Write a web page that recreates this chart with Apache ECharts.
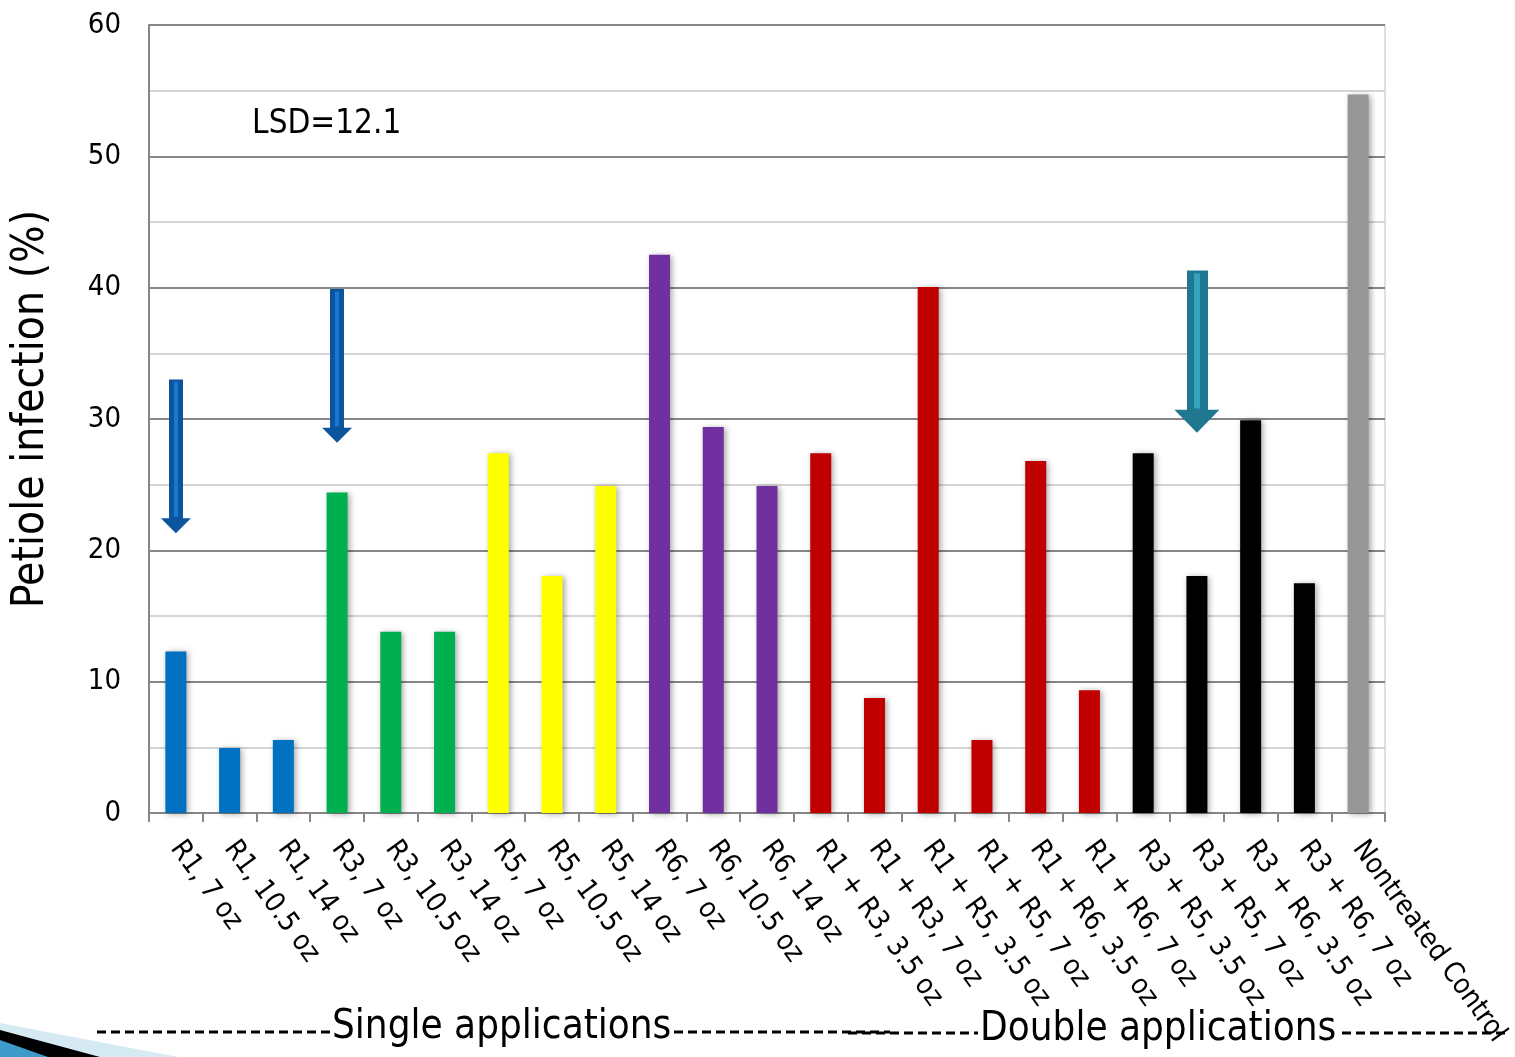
<!DOCTYPE html>
<html><head><meta charset="utf-8">
<script src="https://cdn.jsdelivr.net/npm/echarts@6/dist/echarts.min.js"></script>
<style>html,body{margin:0;padding:0;background:#fff}#c{width:1515px;height:1057px}</style>
</head><body><div id="c"></div>
<script>
const categories = ['R1, 7 oz','R1, 10.5 oz','R1, 14 oz','R3, 7 oz','R3, 10.5 oz','R3, 14 oz','R5, 7 oz','R5, 10.5 oz','R5, 14 oz','R6, 7 oz','R6, 10.5 oz','R6, 14 oz','R1 + R3, 3.5 oz','R1 + R3, 7 oz','R1 + R5, 3.5 oz','R1 + R5, 7 oz','R1 + R6, 3.5 oz','R1 + R6, 7 oz','R3 + R5, 3.5 oz','R3 + R5, 7 oz','R3 + R6, 3.5 oz','R3 + R6, 7 oz','Nontreated Control'];
const values = [12.3, 4.95, 5.55, 24.4, 13.8, 13.8, 27.4, 18.05, 24.9, 42.5, 29.4, 24.9, 27.4, 8.75, 40.05, 5.55, 26.8, 9.35, 27.4, 18.05, 29.9, 17.5, 54.7];
const groups = ['R1','R1','R1','R3','R3','R3','R5','R5','R5','R6','R6','R6','D','D','D','D','D','D','D2','D2','D2','D2','C'];
const yTicks = [0, 10, 20, 30, 40, 50, 60];
// arrows: [category, shaft top value, arrow tip value]
const blueArrows = [['R1, 7 oz', 33, 21.3], ['R3, 7 oz', 39.9, 28.2]];
const tealArrows = [['R3 + R5, 7 oz', 41.3, 28.95]];
const lsdText = 'LSD=12.1';

const groupColors = {R1:'#0070C0', R3:'#00B050', R5:'#FFFF00', R6:'#7030A0', D:'#C00000', D2:'#000000', C:'#969696'};
const PX_PER_UNIT = (1057 - 244 - 25) / 60;

function arrowLines(list, outer, inner, shaftW, innerW, headW, headH){
  const half = headH / 2 / PX_PER_UNIT;
  const full = headH / PX_PER_UNIT;
  return [
    { type:'line', data:[], markLine:{ silent:true, animation:false, symbol:['none','triangle'], symbolSize:[headW, headH], label:{show:false},
      itemStyle:{color:outer}, emphasis:{disabled:true},
      lineStyle:{color:outer, width:shaftW, type:'solid', opacity:1},
      data: list.map(a=>[{coord:[a[0], a[1]]},{coord:[a[0], a[2] + half]}]) } },
    { type:'line', data:[], markLine:{ silent:true, animation:false, symbol:['none','none'], label:{show:false}, emphasis:{disabled:true},
      lineStyle:{color:inner, width:innerW, type:'solid', opacity:1},
      data: list.map(a=>[{coord:[a[0], a[1] - 0.2]},{coord:[a[0], a[2] + full + 0.1]}]) } }
  ];
}

const chart = echarts.init(document.getElementById('c'), null, {renderer:'canvas'});
const narrow = '"Liberation Sans Narrow", "DejaVu Sans Condensed", sans-serif';
chart.setOption({
  animation:false,
  backgroundColor:'#fff',
  grid:{left:149, right:130, top:25, bottom:244, show:true, borderColor:'#BFBFBF', borderWidth:1},
  xAxis:{type:'category', data:categories,
    axisLine:{lineStyle:{color:'#868686', width:2}},
    axisTick:{show:true, length:9, interval:0, lineStyle:{color:'#868686', width:2}},
    axisLabel:{interval:0, rotate:-54, margin:31, fontFamily:'DejaVu Sans Condensed', fontSize:28, color:'#000'}},
  yAxis:{type:'value', min:0, max:60, interval:10,
    axisLine:{show:true, lineStyle:{color:'#868686', width:2}},
    axisTick:{show:false},
    axisLabel:{fontFamily:narrow, fontSize:29, color:'#000', margin:28,
      formatter:v=>yTicks.includes(v)?String(v):''},
    splitLine:{show:true, lineStyle:{color:'#868686', width:2}},
    minorTick:{show:false, splitNumber:2},
    minorSplitLine:{show:true, lineStyle:{color:'#C8C8C8', width:1.5}},
    name:'Petiole infection (%)', nameLocation:'middle', nameGap:95,
    nameTextStyle:{fontFamily:'DejaVu Sans Condensed', fontSize:44, color:'#000', padding:[0,0,0,20]}},
  series:[
    {type:'bar', barWidth:21,
      data: values.map((v,i)=>({value:v, itemStyle:{color:groupColors[groups[i]], shadowBlur:6, shadowColor:'rgba(0,0,0,0.35)', shadowOffsetX:2, shadowOffsetY:1}})),
      markPoint:{silent:true, symbol:'rect', symbolSize:1, itemStyle:{color:'rgba(0,0,0,0)'},
        label:{show:true, formatter:lsdText, fontFamily:'DejaVu Sans Condensed', fontSize:33, color:'#000', position:'right', offset:[17,4]},
        data:[{coord:['R1, 10.5 oz', 52.7]}]}
    },
    ...arrowLines(blueArrows, '#0B559E', '#1A78D0', 14, 4, 30, 15),
    ...arrowLines(tealArrows, '#1F7890', '#35A3BE', 21, 6, 45, 23)
  ],
  graphic:[
    {type:'polygon', shape:{points:[[0,1023],[178,1057],[0,1057]]}, style:{fill:'#D6EAF3'}},
    {type:'polygon', shape:{points:[[0,1030],[100,1057],[0,1057]]}, style:{fill:'#000'}},
    {type:'polygon', shape:{points:[[0,1040],[48,1057],[0,1057]]}, style:{fill:'#3E9BC9'}},
    {type:'line', shape:{x1:97, y1:1032, x2:330, y2:1032}, style:{stroke:'#000', lineWidth:3, lineDash:[9,5]}},
    {type:'line', shape:{x1:674, y1:1032, x2:890, y2:1032}, style:{stroke:'#000', lineWidth:3, lineDash:[9,5]}},
    {type:'line', shape:{x1:848, y1:1033, x2:978, y2:1033}, style:{stroke:'#000', lineWidth:3, lineDash:[9,5]}},
    {type:'line', shape:{x1:1342, y1:1033, x2:1505, y2:1033}, style:{stroke:'#000', lineWidth:3, lineDash:[9,5]}},
    {type:'text', x:332, y:1028, style:{text:'Single applications', font:'40px ' + narrow, fill:'#000', verticalAlign:'middle'}},
    {type:'text', x:980, y:1030, style:{text:'Double applications', font:'40px ' + narrow, fill:'#000', verticalAlign:'middle'}}
  ]
});
</script></body></html>
